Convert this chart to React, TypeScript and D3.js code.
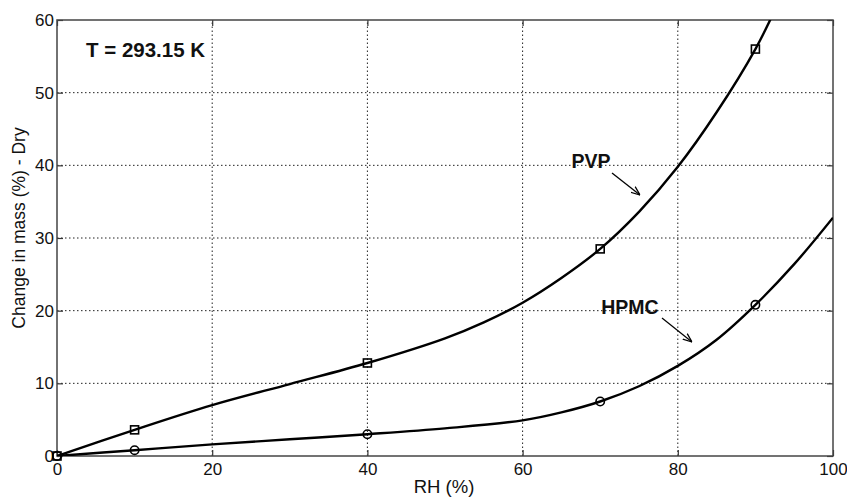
import React, { useRef, useEffect } from 'react';
import * as d3 from 'd3';

const rhTicks = [0, 20, 40, 60, 80, 100];
const massTicks = [0, 10, 20, 30, 40, 50, 60];

// measured points (markers)
const pvpRH = [0, 10, 40, 70, 90];
const pvpMass = [0, 3.6, 12.8, 28.5, 56];
const hpmcRH = [0, 10, 40, 70, 90];
const hpmcMass = [0, 0.8, 3.0, 7.5, 20.8];

// fitted curves
const pvpCurveRH = [0, 10, 20, 30, 40, 50, 55, 60, 65, 70, 75, 80, 85, 90, 93];
const pvpCurveMass = [0, 3.6, 7.0, 9.9, 12.8, 16.2, 18.4, 21.1, 24.5, 28.5, 33.6, 39.8, 47.3, 56, 62.5];
const hpmcCurveRH = [0, 10, 20, 30, 40, 50, 60, 65, 70, 75, 80, 85, 90, 95, 100];
const hpmcCurveMass = [0, 0.8, 1.6, 2.3, 3.0, 3.8, 4.9, 6.0, 7.5, 9.6, 12.4, 16.0, 20.8, 26.4, 32.8];

const W = 847, H = 498;
const margin = { left: 57, right: 14, top: 20, bottom: 42 };
const font = '"Liberation Sans", Arial, Helvetica, sans-serif';

function App() {
  const svgRef = useRef(null);

  useEffect(() => {
    const svg = d3.select(svgRef.current);
    svg.selectAll('*').remove();

    const x = d3.scaleLinear().domain([0, 100]).range([margin.left, W - margin.right]);
    const y = d3.scaleLinear().domain([0, 60]).range([H - margin.bottom, margin.top]);
    const [x0, x1] = x.range();
    const [y0, y1] = y.range();

    svg.append('defs').append('clipPath').attr('id', 'plotclip')
      .append('rect').attr('x', x0).attr('y', y1).attr('width', x1 - x0).attr('height', y0 - y1);

    // grid
    const grid = svg.append('g').attr('stroke', '#222').attr('stroke-width', 1).attr('stroke-dasharray', '1.5,2.5');
    rhTicks.slice(1, -1).forEach(t => {
      grid.append('line').attr('x1', x(t)).attr('x2', x(t)).attr('y1', y0).attr('y2', y1);
    });
    massTicks.slice(1, -1).forEach(t => {
      grid.append('line').attr('x1', x0).attr('x2', x1).attr('y1', y(t)).attr('y2', y(t));
    });

    // axes with inward ticks
    const tickLen = 6;
    const gx = svg.append('g').attr('transform', `translate(0,${y0})`)
      .call(d3.axisBottom(x).tickValues(rhTicks).tickSize(-tickLen).tickPadding(7));
    const gy = svg.append('g').attr('transform', `translate(${x0},0)`)
      .call(d3.axisLeft(y).tickValues(massTicks).tickSize(-tickLen).tickPadding(3));
    const gt = svg.append('g').attr('transform', `translate(0,${y1})`)
      .call(d3.axisTop(x).tickValues(rhTicks).tickSize(-tickLen).tickFormat(() => ''));
    const gr = svg.append('g').attr('transform', `translate(${x1},0)`)
      .call(d3.axisRight(y).tickValues(massTicks).tickSize(-tickLen).tickFormat(() => ''));
    [gx, gy, gt, gr].forEach(g => {
      g.select('.domain').remove();
      g.selectAll('line').attr('stroke', '#333').attr('stroke-width', 1.2);
      g.selectAll('text').attr('font-family', font).attr('font-size', 17).attr('fill', '#111');
    });

    svg.append('rect').attr('x', x0).attr('y', y1).attr('width', x1 - x0).attr('height', y0 - y1)
      .attr('fill', 'none').attr('stroke', '#444').attr('stroke-width', 1.5);

    // curves
    const line = d3.line().x(d => x(d[0])).y(d => y(d[1])).curve(d3.curveCatmullRom.alpha(0.5));
    const curves = svg.append('g').attr('clip-path', 'url(#plotclip)');
    curves.append('path').attr('d', line(d3.zip(pvpCurveRH, pvpCurveMass)))
      .attr('fill', 'none').attr('stroke', '#000').attr('stroke-width', 2.4);
    curves.append('path').attr('d', line(d3.zip(hpmcCurveRH, hpmcCurveMass)))
      .attr('fill', 'none').attr('stroke', '#000').attr('stroke-width', 2.4);

    // markers
    const s = 8;
    svg.append('g').selectAll('rect').data(d3.zip(pvpRH, pvpMass)).join('rect')
      .attr('x', d => x(d[0]) - s / 2).attr('y', d => y(d[1]) - s / 2)
      .attr('width', s).attr('height', s)
      .attr('fill', 'none').attr('stroke', '#000').attr('stroke-width', 1.6);
    svg.append('g').selectAll('circle').data(d3.zip(hpmcRH, hpmcMass)).join('circle')
      .attr('cx', d => x(d[0])).attr('cy', d => y(d[1])).attr('r', 4.2)
      .attr('fill', 'none').attr('stroke', '#000').attr('stroke-width', 1.6);

    // annotations
    svg.append('text').attr('x', 86).attr('y', 57).text('T = 293.15 K')
      .attr('font-family', font).attr('font-size', 20.5).attr('font-weight', 'bold').attr('fill', '#111');

    svg.append('defs').append('marker').attr('id', 'arrow').attr('viewBox', '0 0 10 10')
      .attr('refX', 10).attr('refY', 5).attr('markerWidth', 9).attr('markerHeight', 9)
      .attr('orient', 'auto').attr('markerUnits', 'userSpaceOnUse')
      .append('path').attr('d', 'M0,1 L10,5 L0,9').attr('fill', 'none').attr('stroke', '#000').attr('stroke-width', 1.4);

    const labels = [
      { text: 'PVP', tx: 591, ty: 168, ax1: 612, ay1: 173, ax2: 640, ay2: 195 },
      { text: 'HPMC', tx: 630, ty: 314, ax1: 662, ay1: 318, ax2: 692, ay2: 342 },
    ];
    labels.forEach(l => {
      svg.append('text').attr('x', l.tx).attr('y', l.ty).attr('text-anchor', 'middle').text(l.text)
        .attr('font-family', font).attr('font-size', 19.5).attr('font-weight', 'bold').attr('fill', '#111');
      svg.append('line').attr('x1', l.ax1).attr('y1', l.ay1).attr('x2', l.ax2).attr('y2', l.ay2)
        .attr('stroke', '#000').attr('stroke-width', 1.3).attr('marker-end', 'url(#arrow)');
    });

    // axis titles
    svg.append('text').attr('x', 444).attr('y', 493).attr('text-anchor', 'middle')
      .text('RH (%)').attr('font-family', font).attr('font-size', 18.5).attr('fill', '#111');
    svg.append('text').attr('transform', `translate(25,228) rotate(-90)`)
      .attr('text-anchor', 'middle').text('Change in mass (%) - Dry')
      .attr('font-family', font).attr('font-size', 17.5).attr('fill', '#111');
  }, []);

  return (
    <div>
      <svg ref={svgRef} width={W} height={H}
        style={{ position: 'absolute', left: 0, top: 0, background: '#fff' }} />
    </div>
  );
}

export default App;
